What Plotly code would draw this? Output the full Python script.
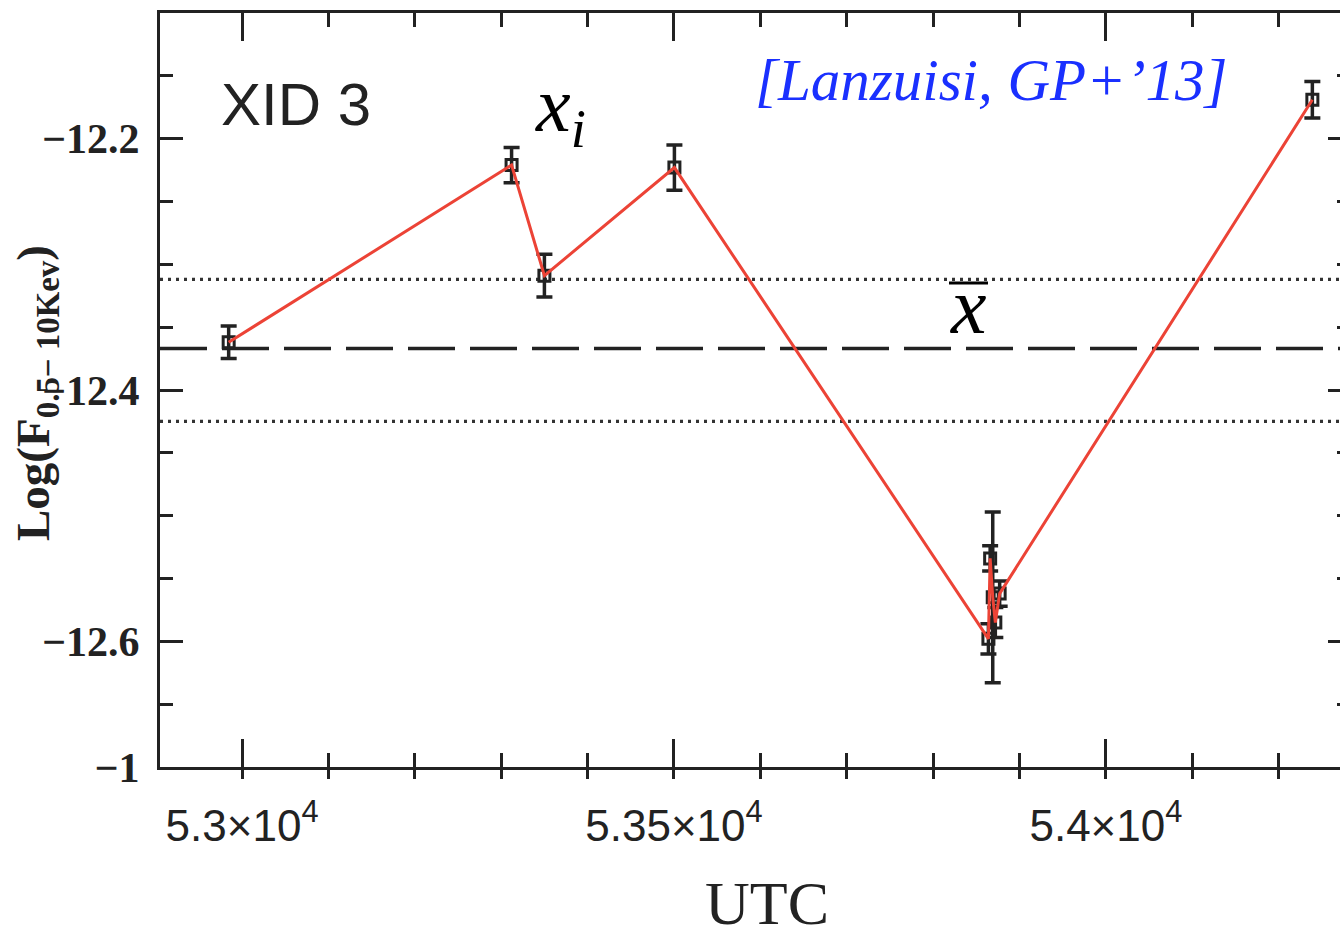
import plotly.graph_objects as go

# ---- data ----
utc = [52984.5, 53312, 53350, 53500.5, 53864, 53866, 53869, 53872, 53877, 54239]
log_flux = [-12.362, -12.221, -12.309, -12.223, -12.598, -12.534, -12.565, -12.585, -12.562, -12.169]
log_flux_err = [0.013, 0.014, 0.017, 0.018, 0.012, 0.010, 0.068, 0.012, 0.010, 0.0145]

mean_level = -12.367
upper_level = -12.312
lower_level = -12.425

x_tick_vals = [53000, 53500, 54000]
x_tick_text = ["5.3×10<sup>4</sup>", "5.35×10<sup>4</sup>", "5.4×10<sup>4</sup>"]
y_tick_vals = [-12.7, -12.6, -12.4, -12.2]
y_tick_text = ["−1", "−12.6", "−12.4", "−12.2"]

X_RANGE = [52905, 54271]
Y_RANGE = [-12.7, -12.1]

W, H = 1340, 938
L, R, T, B = 160, 0, 13, 171
PW, PH = W - L - R, H - T - B

def px(x):
    return (x - L) / PW

def py(y):
    return (H - B - y) / PH

INK = "#222222"
RED = "#ec4336"

fig = go.Figure()

# data points with error bars
fig.add_trace(go.Scatter(
    x=utc, y=log_flux, mode="markers",
    marker=dict(symbol="square-open", size=11, color=INK, line=dict(width=3, color=INK)),
    error_y=dict(type="data", array=log_flux_err, visible=True, color=INK, thickness=3.5, width=8),
    showlegend=False, hoverinfo="skip",
))
# red connecting line
fig.add_trace(go.Scatter(
    x=utc, y=log_flux, mode="lines",
    line=dict(color=RED, width=3),
    showlegend=False, hoverinfo="skip",
))
# helper traces so the extra tick axes are drawn
fig.add_trace(go.Scatter(x=[], y=[], xaxis="x", yaxis="y2", showlegend=False))
fig.add_trace(go.Scatter(x=[], y=[], xaxis="x2", yaxis="y", showlegend=False))

# mean and +/- levels
fig.add_hline(y=mean_level, line=dict(color=INK, width=3.5, dash="47px,15px"), layer="below")
fig.add_hline(y=upper_level, line=dict(color="#333333", width=3.2, dash="3px,5px"), layer="below")
fig.add_hline(y=lower_level, line=dict(color="#333333", width=3.2, dash="3px,5px"), layer="below")

fig.update_layout(
    width=W, height=H,
    margin=dict(l=L, r=R, t=T, b=B),
    paper_bgcolor="white", plot_bgcolor="white",
    showlegend=False,
    xaxis=dict(
        range=X_RANGE, showgrid=False, zeroline=False,
        showline=True, linecolor=INK, linewidth=3, mirror="ticks",
        ticks="inside", ticklen=28, tickwidth=2.5, tickcolor=INK,
        tickvals=x_tick_vals, ticktext=x_tick_text,
        tickfont=dict(family="Liberation Sans", size=44, color=INK),
        ticklabelstandoff=18,
        minor=dict(dtick=100, tick0=52900, ticks="inside", ticklen=14, tickwidth=2.5, tickcolor=INK, showgrid=False),
    ),
    xaxis2=dict(
        range=X_RANGE, overlaying="x", side="bottom", anchor="y",
        showgrid=False, zeroline=False, showline=False, showticklabels=False,
        ticks="outside", ticklen=11, tickwidth=2.5, tickcolor=INK,
        tickvals=x_tick_vals,
        minor=dict(dtick=100, tick0=52900, ticks="outside", ticklen=11, tickwidth=2.5, tickcolor=INK, showgrid=False),
    ),
    yaxis=dict(
        range=Y_RANGE, showgrid=False, zeroline=False,
        showline=True, linecolor=INK, linewidth=3, mirror=False,
        ticks="inside", ticklen=23, tickwidth=2.5, tickcolor=INK,
        tickvals=y_tick_vals, ticktext=y_tick_text,
        tickfont=dict(family="Liberation Serif", size=42, color=INK, weight="bold"),
        ticklabelstandoff=9,
        minor=dict(dtick=0.05, tick0=-12.7, ticks="inside", ticklen=13, tickwidth=2.5, tickcolor=INK, showgrid=False),
    ),
    yaxis2=dict(
        range=Y_RANGE, overlaying="y", side="right", anchor="x",
        showgrid=False, zeroline=False, showline=False, showticklabels=False,
        ticks="inside", ticklen=12, tickwidth=2.5, tickcolor=INK,
        tickvals=[-12.6, -12.4, -12.2],
        minor=dict(dtick=0.05, tick0=-12.7, ticks="inside", ticklen=3, tickwidth=2.5, tickcolor=INK, showgrid=False),
    ),
)

annotations = [
    dict(text="XID 3", x=px(296), y=py(104), xref="paper", yref="paper",
         xanchor="center", yanchor="middle", showarrow=False,
         font=dict(family="Liberation Sans", size=60, color=INK)),
    dict(text="<i>x</i><sub><i>i</i></sub>", x=px(560), y=py(110), xref="paper", yref="paper",
         xanchor="center", yanchor="middle", showarrow=False,
         font=dict(family="Liberation Serif", size=78, color="black")),
    dict(text="<i>x</i>", x=px(968), y=py(306), xref="paper", yref="paper",
         xanchor="center", yanchor="middle", showarrow=False,
         font=dict(family="Liberation Serif", size=80, color="black")),
    dict(text="<i>[Lanzuisi, GP+’13]</i>", x=px(991), y=py(80), xref="paper", yref="paper",
         xanchor="center", yanchor="middle", showarrow=False,
         font=dict(family="Liberation Serif", size=59, color="#1a30ff")),
    dict(text="Log(F<sub>0.5− 10Kev</sub>)", x=px(36), y=py(393), xref="paper", yref="paper",
         xanchor="center", yanchor="middle", showarrow=False, textangle=-90,
         font=dict(family="Liberation Serif", size=47, color=INK, weight="bold")),
    dict(text="UTC", x=px(767), y=py(903), xref="paper", yref="paper",
         xanchor="center", yanchor="middle", showarrow=False,
         font=dict(family="Liberation Serif", size=62, color=INK)),
]
fig.update_layout(annotations=annotations)

# overbar of the mean symbol
fig.add_shape(type="line", xref="paper", yref="paper",
              x0=px(949), x1=px(988), y0=py(283), y1=py(283),
              line=dict(color="black", width=3))

fig.write_html("out.html")
